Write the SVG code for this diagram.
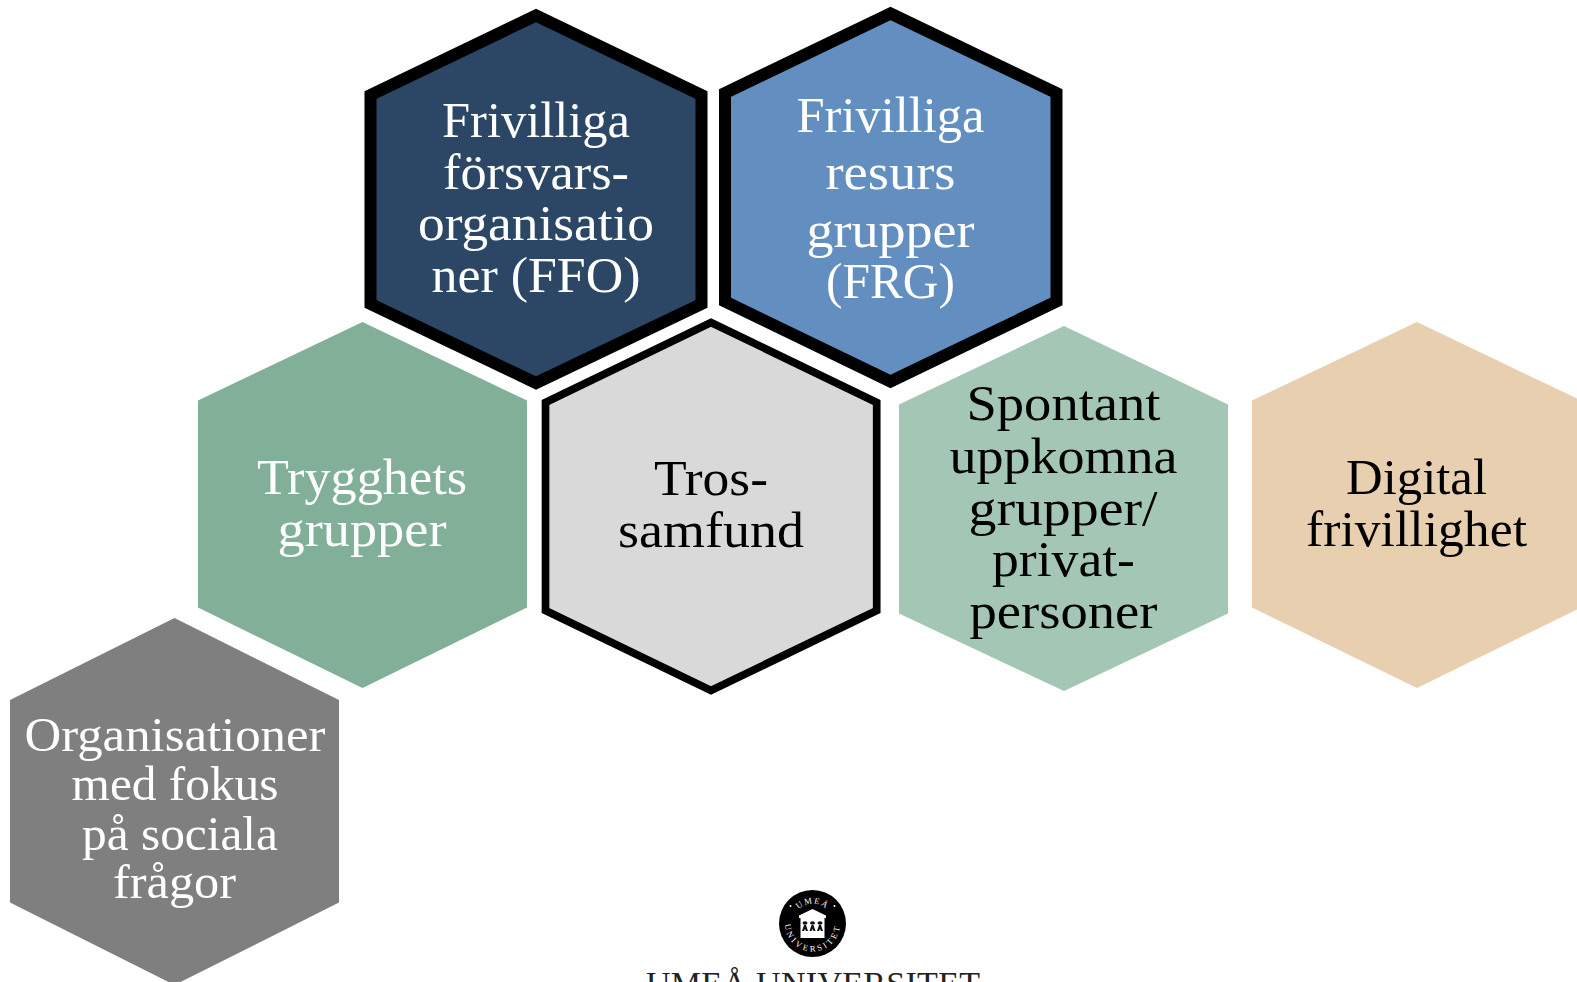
<svg xmlns="http://www.w3.org/2000/svg" width="1577" height="982" viewBox="0 0 1577 982">
<style>
.t{font-family:"Liberation Serif","Times New Roman",serif;font-size:51px;text-anchor:middle}
.s{font-size:49px}
.w{fill:#fff}.k{fill:#000}
.b{stroke:#000;stroke-width:12;stroke-linejoin:miter;stroke-miterlimit:10}
.lg{font-family:"Liberation Serif",serif;font-size:8.500px;fill:#fff;text-anchor:middle}
</style>
<defs>
<path id="arcTop" d="M793 923A19.500 19.500 0 0 1 832 923"/>
<path id="arcBot" d="M787.500 912.500A27.500 27.500 0 1 0 837.500 912.500"/>
</defs>
<rect width="1577" height="982" fill="#fff"/>
<g id="node-ffo">
<polygon class="b" fill="#2C4766" points="536,15.500 701.500,95 701.500,304 536,383 370.500,304 370.500,95"/>
<text class="t w" lengthAdjust="spacingAndGlyphs" x="536" y="137" textLength="188">Frivilliga</text>
<text class="t w" lengthAdjust="spacingAndGlyphs" x="536" y="189" textLength="186">försvars-</text>
<text class="t w" lengthAdjust="spacingAndGlyphs" x="536" y="240" textLength="236">organisatio</text>
<text class="t w" lengthAdjust="spacingAndGlyphs" x="536" y="292" textLength="209">ner (FFO)</text>
</g>
<g id="node-frg">
<polygon class="b" fill="#638FC0" points="890.500,13.500 1056.500,93 1056.500,301.500 890.500,381.500 725,301.500 725,93"/>
<text class="t w" lengthAdjust="spacingAndGlyphs" x="890.500" y="132" textLength="188">Frivilliga</text>
<text class="t w" lengthAdjust="spacingAndGlyphs" x="890.500" y="189" textLength="130">resurs</text>
<text class="t w" lengthAdjust="spacingAndGlyphs" x="890.500" y="247" textLength="168">grupper</text>
<text class="t w" lengthAdjust="spacingAndGlyphs" x="890.500" y="298" textLength="129">(FRG)</text>
</g>
<g id="node-trygghet">
<polygon fill="#81AF98" points="362.500,322 527,400.500 527,607.500 362.500,688 198,607.500 198,400.500"/>
<text class="t w" lengthAdjust="spacingAndGlyphs" x="362" y="494" textLength="210">Trygghets</text>
<text class="t w" lengthAdjust="spacingAndGlyphs" x="362" y="546" textLength="169">grupper</text>
</g>
<g id="node-tros">
<polygon fill="#D9D9D9" stroke="#000" stroke-width="7.700" points="711,322.500 876.700,402.500 876.700,610.500 711,690.500 545.500,610.500 545.500,402.500"/>
<text class="t k" lengthAdjust="spacingAndGlyphs" x="711" y="495" textLength="114">Tros-</text>
<text class="t k" lengthAdjust="spacingAndGlyphs" x="711" y="547" textLength="186">samfund</text>
</g>
<g id="node-spontant">
<polygon fill="#A4C6B4" points="1064,326 1228,404.500 1228,613.500 1064,691 899,613.500 899,404.500"/>
<text class="t k" lengthAdjust="spacingAndGlyphs" x="1063.500" y="420" textLength="194">Spontant</text>
<text class="t k" lengthAdjust="spacingAndGlyphs" x="1063.500" y="473" textLength="228">uppkomna</text>
<text class="t k" lengthAdjust="spacingAndGlyphs" x="1063" y="525" textLength="189">grupper/</text>
<text class="t k" lengthAdjust="spacingAndGlyphs" x="1063.500" y="576" textLength="143">privat-</text>
<text class="t k" lengthAdjust="spacingAndGlyphs" x="1063.500" y="628" textLength="188">personer</text>
</g>
<g id="node-digital">
<polygon fill="#E7CFAF" points="1417,322 1581,400.500 1581,607.500 1417,688 1252,607.500 1252,400.500"/>
<text class="t k" lengthAdjust="spacingAndGlyphs" x="1416.500" y="494" textLength="141">Digital</text>
<text class="t k" lengthAdjust="spacingAndGlyphs" x="1416.500" y="546" textLength="221">frivillighet</text>
</g>
<g id="node-sociala">
<polygon fill="#7F7F7F" points="174.500,618 339,700 339,902.500 174.500,985 10,902.500 10,700"/>
<text class="t s w" lengthAdjust="spacingAndGlyphs" x="175" y="751" textLength="301">Organisationer</text>
<text class="t s w" lengthAdjust="spacingAndGlyphs" x="175" y="800" textLength="207">med fokus</text>
<text class="t s w" lengthAdjust="spacingAndGlyphs" x="180" y="850" textLength="196">på sociala</text>
<text class="t s w" lengthAdjust="spacingAndGlyphs" x="174.500" y="898" textLength="123">frågor</text>
</g>
<g id="logo">
<circle cx="812.500" cy="923.500" r="33.500" fill="#000"/>
<text class="lg" letter-spacing="1.500"><textPath href="#arcTop" startOffset="50%">UMEÅ</textPath></text>
<text class="lg" letter-spacing="2.700"><textPath href="#arcBot" startOffset="50%">UNIVERSITET</textPath></text>
<circle cx="790.500" cy="906" r="1" fill="#fff"/><circle cx="834.500" cy="906" r="1" fill="#fff"/>
<polygon fill="#fff" points="812.500,909 826,915.500 826,918 824.500,918 824.500,938 800.500,938 800.500,918 799,918 799,915.500"/>
<g fill="#111">
<ellipse cx="805" cy="923" rx="2.500" ry="1.800"/><ellipse cx="812.500" cy="923" rx="2.500" ry="1.800"/><ellipse cx="820" cy="923" rx="2.500" ry="1.800"/>
<path d="M802 931l2-6h2l2 6h-2l-1-2-1 2zM809.500 931l2-6h2l2 6h-2l-1-2-1 2zM817 931l2-6h2l2 6h-2l-1-2-1 2z"/>
</g>
<text x="813" y="995" style="font-family:'Liberation Serif',serif;font-size:34px;text-anchor:middle" fill="#222" textLength="334">UMEÅ UNIVERSITET</text>
</g>
</svg>
